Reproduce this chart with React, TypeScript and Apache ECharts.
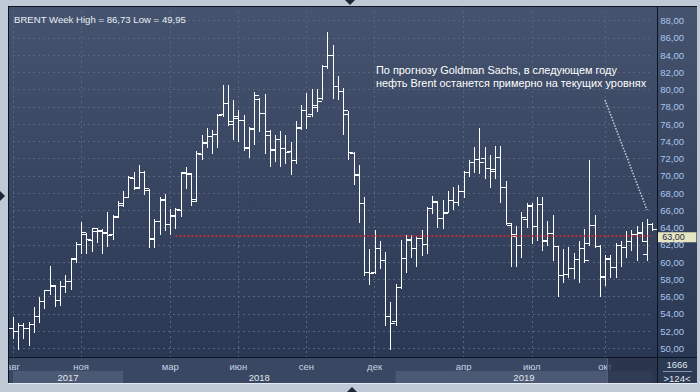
import React, { useEffect, useRef } from 'react';
import * as echarts from 'echarts';

// ---- data ----
const START_WEEK = '2017-08-07';
const WEEK_COUNT = 123;
const weeks: string[] = [];
for (let i = 0; i < WEEK_COUNT; i++) {
  const d = new Date(Date.parse(START_WEEK + 'T00:00:00Z') + i * 7 * 86400000);
  weeks.push(d.toISOString().slice(0, 10));
}

const opens = [
  52.3, 51.95, 52.7, 52.3, 52.8, 53.7, 55.5, 56.8, 57.2, 55.6,
  57.2, 57.8, 60.5, 62.1, 63.3, 62.6, 63.6, 63.6, 63.5, 63.3,
  65.3, 66.6, 67.6, 69.8, 68.7, 70.4, 68.4, 62.7, 64.8, 67.2,
  64.4, 65.4, 66.0, 70.3, 70.2, 67.3, 72.5, 73.9, 74.6, 74.9,
  77.2, 78.5, 76.0, 76.7, 76.5, 73.4, 75.4, 78.9, 77.3, 75.2,
  73.0, 74.3, 73.2, 72.9, 71.8, 75.7, 77.6, 77.2, 78.2, 79.0,
  82.7, 84.0, 80.4, 79.8, 77.2, 72.6, 70.1, 66.8, 58.9, 58.8,
  61.6, 60.2, 53.8, 53.2, 57.1, 60.5, 62.6, 61.6, 62.8, 62.1,
  66.3, 67.0, 65.1, 65.8, 67.2, 67.0, 68.3, 70.4, 71.6, 72.0,
  72.1, 70.9, 70.8, 72.2, 68.7, 64.3, 63.0, 62.0, 65.0, 66.6,
  64.2, 66.7, 62.6, 63.4, 61.9, 58.5, 58.6, 59.3, 60.4, 61.6,
  62.2, 64.3, 61.9, 58.3, 60.4, 59.4, 62.0, 61.7, 62.5, 63.3,
  63.5, 60.9, 64.4,
];
const closes = [
  51.95, 52.7, 52.3, 52.8, 53.8, 55.5, 56.8, 57.4, 55.6, 57.2,
  57.8, 60.4, 62.1, 63.5, 62.7, 63.9, 63.7, 63.4, 63.2, 65.2,
  66.9, 67.6, 69.9, 68.6, 70.5, 68.6, 62.8, 64.8, 67.3, 64.4,
  65.5, 66.2, 70.4, 70.3, 67.1, 72.6, 73.8, 74.6, 74.9, 77.1,
  78.5, 76.4, 77.0, 76.5, 73.2, 75.6, 79.4, 77.3, 74.8, 73.1,
  74.3, 73.2, 72.8, 71.8, 75.6, 77.6, 77.0, 78.0, 78.7, 82.7,
  84.0, 80.4, 79.8, 77.6, 72.8, 70.2, 66.8, 58.8, 58.7, 61.6,
  60.3, 53.8, 52.9, 57.1, 60.5, 62.7, 61.6, 62.8, 62.1, 66.3,
  67.1, 65.1, 65.7, 67.2, 67.0, 68.2, 70.4, 71.6, 72.0, 71.6,
  70.9, 70.6, 72.2, 68.7, 64.5, 63.3, 62.0, 65.2, 66.55, 64.2,
  66.7, 62.5, 63.4, 61.9, 58.5, 58.6, 59.3, 60.4, 61.6, 60.2,
  64.3, 61.9, 58.4, 60.5, 59.4, 62.0, 61.7, 62.5, 63.3, 63.4,
  62.4, 64.4, 63.83,
];
const lows = [
  51.2, 49.95, 51.2, 50.4, 51.9, 53.0, 54.7, 56.3, 54.9, 55.0,
  56.5, 56.9, 60.0, 61.1, 61.0, 61.3, 62.3, 61.0, 61.9, 62.7,
  65.2, 66.5, 67.5, 68.5, 68.6, 67.9, 61.7, 61.8, 63.3, 63.7,
  63.3, 64.0, 65.3, 68.6, 66.6, 67.1, 72.0, 73.3, 72.6, 73.3,
  76.9, 75.9, 74.3, 74.0, 73.0, 72.2, 73.7, 75.2, 72.6, 71.2,
  71.7, 71.2, 71.5, 70.2, 71.5, 75.4, 75.5, 77.0, 77.5, 78.9,
  82.5, 79.0, 78.9, 74.9, 72.0, 69.1, 64.6, 58.5, 57.5, 58.7,
  59.3, 52.7, 49.95, 52.7, 57.0, 58.9, 60.6, 59.6, 60.8, 61.0,
  65.7, 64.1, 64.0, 65.8, 66.2, 66.6, 67.6, 70.0, 70.5, 70.3,
  69.7, 68.7, 69.7, 67.0, 64.4, 59.5, 59.5, 60.6, 64.1, 62.2,
  62.6, 61.4, 62.0, 60.3, 56.1, 57.7, 58.3, 58.1, 57.7, 60.0,
  62.0, 61.8, 56.1, 57.3, 58.3, 58.3, 59.5, 60.6, 61.4, 60.2,
  62.4, 60.2, 63.7,
];
const highs = [
  53.6, 52.9, 52.9, 53.0, 54.8, 56.0, 56.8, 59.5, 57.3, 57.8,
  58.5, 60.5, 62.3, 64.7, 63.4, 63.9, 64.0, 63.8, 65.8, 65.5,
  67.1, 68.3, 70.0, 70.4, 71.3, 70.6, 68.5, 65.0, 67.5, 67.9,
  66.2, 66.3, 70.5, 71.0, 70.3, 72.9, 74.8, 75.5, 75.3, 77.2,
  80.5, 80.5, 78.8, 77.6, 77.1, 75.7, 79.7, 79.0, 79.5, 75.3,
  74.8, 75.2, 74.7, 73.9, 76.4, 78.2, 79.6, 80.1, 80.1, 82.9,
  86.73, 85.2, 81.6, 80.2, 77.5, 72.8, 71.3, 67.5, 61.5, 63.7,
  62.4, 61.2, 55.4, 57.5, 62.6, 63.1, 63.1, 63.0, 63.7, 66.4,
  67.7, 67.1, 67.2, 68.3, 68.7, 69.0, 70.6, 71.9, 73.3, 75.6,
  73.4, 72.4, 73.5, 73.5, 69.4, 64.5, 64.2, 65.8, 66.9, 66.9,
  67.6, 67.6, 64.8, 65.5, 61.9, 61.5, 61.7, 61.0, 62.4, 63.8,
  71.9, 65.5, 62.0, 60.8, 60.8, 62.2, 62.4, 63.6, 63.7, 64.2,
  64.6, 65.0, 64.5,
];

const forecastLevel = 63.0;
const forecastFrom = '2018-03-12';

const monthTicks = ['2017-08-07', '2017-11-06', '2018-03-05', '2018-06-04', '2018-09-03', '2018-12-03', '2019-04-01', '2019-07-01', '2019-10-07'];
const monthLabels = ['авг', 'ноя', 'мар', 'июн', 'сен', 'дек', 'апр', 'июл', 'окт'];

const years = ['2017', '2018', '2019'];
const yearStarts = ['2017-08-07', '2018-01-01', '2018-12-31'];
const yearEnds = ['2018-01-01', '2018-12-31', '2019-12-09'];

const titleText = 'BRENT Week High = 86,73 Low = 49,95';
const noteText = 'По прогнозу Goldman Sachs, в следующем году\nнефть Brent останется примерно на текущих уровнях';

const FONT = '"Liberation Sans", Arial, sans-serif';
const fmt = (v: number) => v.toFixed(2).replace('.', ',');

export default function App() {
  const ref = useRef<HTMLDivElement>(null);
  useEffect(() => {
    if (!ref.current) return;
    const chart = echarts.init(ref.current, undefined, { renderer: 'svg' });
    const last = WEEK_COUNT - 1;
    const ohlc = weeks.map((_, i) => [i, opens[i], closes[i], lows[i], highs[i]]);

    const boxLabel = {
      show: true, position: 'end', distance: 5,
      fontSize: 9, padding: [1, 4, 0, 5], width: 30, lineHeight: 9, fontFamily: FONT,
    };

    const option: any = {
      animation: false,
      backgroundColor: 'transparent',
      textStyle: { fontFamily: FONT },
      title: {
        text: titleText, left: 9, top: 9,
        textStyle: { color: '#e8eef6', fontSize: 9.6, fontWeight: 'normal', fontFamily: FONT },
      },
      grid: [
        { left: 13, right: 47.7, top: 6, height: 351 },
        { left: 13, right: 47.7, top: 357, height: 26 },
      ],
      xAxis: [
        {
          type: 'category', data: weeks, boundaryGap: false, gridIndex: 0,
          axisLine: { show: false }, axisTick: { show: false },
          axisLabel: {
            interval: (i: number, v: string) => monthTicks.includes(v),
            formatter: (v: string) => monthLabels[monthTicks.indexOf(v)] || '',
            color: '#c6d2e2', fontSize: 9.5, margin: 4, fontFamily: FONT,
          },
          splitLine: {
            show: true,
            interval: (i: number, v: string) => monthTicks.includes(v),
            lineStyle: { color: '#56647e', type: [2, 3], width: 1 },
          },
        },
        { type: 'category', data: weeks, boundaryGap: false, gridIndex: 1, show: false },
      ],
      yAxis: [
        {
          type: 'value', position: 'right', gridIndex: 0,
          min: 48.99, max: 89.71, splitNumber: 20,
          axisLine: { show: false }, axisTick: { show: false },
          axisLabel: {
            formatter: (v: number) => fmt(v), color: '#a9c6ec', fontSize: 9.5, margin: 8,
            showMinLabel: false, showMaxLabel: false, fontFamily: FONT,
          },
          splitLine: { show: true, lineStyle: { color: '#56647e', type: [2, 3], width: 1 } },
        },
        { type: 'value', gridIndex: 1, min: 0, max: 1, show: false },
      ],
      series: [
        {
          type: 'custom',
          xAxisIndex: 0, yAxisIndex: 0,
          data: ohlc,
          encode: { x: 0, y: [1, 2, 3, 4] },
          clip: false,
          renderItem: (params: any, api: any) => {
            const i = api.value(0);
            const o = api.coord([i, api.value(1)]);
            const c = api.coord([i, api.value(2)]);
            const l = api.coord([i, api.value(3)]);
            const h = api.coord([i, api.value(4)]);
            const band = api.size([1, 0])[0];
            const t = band * 0.85;
            const x = Math.round(o[0]) + 0.5;
            const yo = Math.round(o[1]) + 0.5;
            const yc = Math.round(c[1]) + 0.5;
            const style = { stroke: '#ffffff', lineWidth: 1, fill: null };
            return {
              type: 'group',
              children: [
                { type: 'line', shape: { x1: x, y1: Math.round(h[1]), x2: x, y2: Math.round(l[1]) + 1 }, style },
                { type: 'line', shape: { x1: x - t, y1: yo, x2: x, y2: yo }, style },
                { type: 'line', shape: { x1: x, y1: yc, x2: x + t, y2: yc }, style },
              ],
            };
          },
          markLine: {
            silent: true, symbol: 'none', animation: false,
            lineStyle: { color: '#e0242a', type: [2, 2], width: 1.6 },
            data: [
              {
                yAxis: closes[last],
                lineStyle: { opacity: 0 },
                label: {
                  ...boxLabel,
                  formatter: fmt(closes[last]),
                  offset: [0, -2],
                  backgroundColor: '#c3c7cf', color: '#2a3448',
                },
              },
              [
                {
                  xAxis: forecastFrom, yAxis: forecastLevel,
                  label: {
                    ...boxLabel,
                    formatter: fmt(forecastLevel),
                    offset: [0, 1],
                    backgroundColor: '#e6e6c2', color: '#1c2840',
                  },
                },
                { xAxis: weeks[last], yAxis: forecastLevel },
              ],
            ],
          },
        },
        {
          type: 'line', xAxisIndex: 1, yAxisIndex: 1,
          data: weeks.map(() => null), symbol: 'none', silent: true,
          markArea: {
            silent: true,
            label: { show: true, position: 'inside', color: '#e2e8f0', fontSize: 9.5, fontFamily: FONT },
            data: years.map((y, k) => [
              { name: y, xAxis: yearStarts[k], yAxis: 0, itemStyle: { color: k === 1 ? 'rgba(0,0,0,0)' : '#4b5974' } },
              { xAxis: yearEnds[k], yAxis: 0.46 },
            ]),
          },
        },
      ],
      graphic: [
        {
          type: 'rect', z: -10, silent: true,
          shape: { x: 8, y: 6, width: 689, height: 351 },
          style: {
            fill: new echarts.graphic.LinearGradient(0, 0, 0, 1, [
              { offset: 0, color: '#45536e' },
              { offset: 1, color: '#2b3853' },
            ]),
          },
        },
        { type: 'rect', z: -10, silent: true, shape: { x: 8, y: 357, width: 649, height: 26 }, style: { fill: '#3a4762' } },
        { type: 'rect', z: -9, silent: true, shape: { x: 658, y: 358, width: 39, height: 25 }, style: { fill: '#2c3952' } },
        { type: 'rect', z: 40, silent: true, shape: { x: 607, y: 358, width: 50, height: 25 }, style: { fill: 'rgba(38,48,70,0.72)' } },
        { type: 'line', z: 41, silent: true, shape: { x1: 607.5, y1: 358, x2: 607.5, y2: 383 }, style: { stroke: '#56627a', lineWidth: 1 } },
        { type: 'rect', z: 60, silent: true, shape: { x: 0, y: 0, width: 8, height: 392 }, style: { fill: '#bfc9d6' } },
        { type: 'line', z: 61, silent: true, shape: { x1: 8.5, y1: 6, x2: 8.5, y2: 383 }, style: { stroke: '#0e1522', lineWidth: 1 } },
        { type: 'line', z: 61, silent: true, shape: { x1: 8, y1: 6.5, x2: 697, y2: 6.5 }, style: { stroke: '#0e1522', lineWidth: 1 } },
        { type: 'line', z: 61, silent: true, shape: { x1: 657.5, y1: 6, x2: 657.5, y2: 383 }, style: { stroke: '#0e1522', lineWidth: 1 } },
        { type: 'line', z: 61, silent: true, shape: { x1: 8, y1: 357.5, x2: 697, y2: 357.5 }, style: { stroke: '#0e1522', lineWidth: 1 } },
        { type: 'line', z: 61, silent: true, shape: { x1: 8, y1: 383.5, x2: 697, y2: 383.5 }, style: { stroke: '#e4e9f0', lineWidth: 1 } },
        { type: 'polygon', z: 62, silent: true, shape: { points: [[345, 0], [355, 0], [350, 5]] }, style: { fill: '#1c2638' } },
        { type: 'polygon', z: 62, silent: true, shape: { points: [[0, 191], [0, 201], [5, 196]] }, style: { fill: '#1c2638' } },
        { type: 'polygon', z: 62, silent: true, shape: { points: [[347, 392], [357, 392], [352, 387]] }, style: { fill: '#1c2638' } },
        {
          type: 'text', z: 30, silent: true, x: 376, y: 64,
          style: { text: noteText, fill: '#ffffff', fontSize: 10.9, fontFamily: FONT, lineHeight: 12.8 },
        },
        {
          type: 'line', z: 30, silent: true, shape: { x1: 605, y1: 100, x2: 647, y2: 210 },
          style: { stroke: '#c9ced8', lineWidth: 1.5, lineDash: [1.5, 1.5] },
        },
        {
          type: 'text', z: 30, silent: true, x: 677, y: 364,
          style: { text: '1666', fill: '#dfe6ee', fontSize: 9.5, fontFamily: FONT, align: 'center', verticalAlign: 'middle' },
        },
        { type: 'line', z: 30, silent: true, shape: { x1: 663, y1: 371.5, x2: 692, y2: 371.5 }, style: { stroke: '#8a96aa', lineWidth: 1 } },
        {
          type: 'text', z: 30, silent: true, x: 677, y: 378,
          style: { text: '>124<', fill: '#dfe6ee', fontSize: 9.5, fontFamily: FONT, align: 'center', verticalAlign: 'middle' },
        },
      ],
    };
    chart.setOption(option);
    return () => chart.dispose();
  }, []);

  return (
    <div style={{ position: 'fixed', left: 0, top: 0, width: 700, height: 392, background: '#bfc9d6' }}>
      <div ref={ref} style={{ width: 700, height: 392 }} />
    </div>
  );
}
